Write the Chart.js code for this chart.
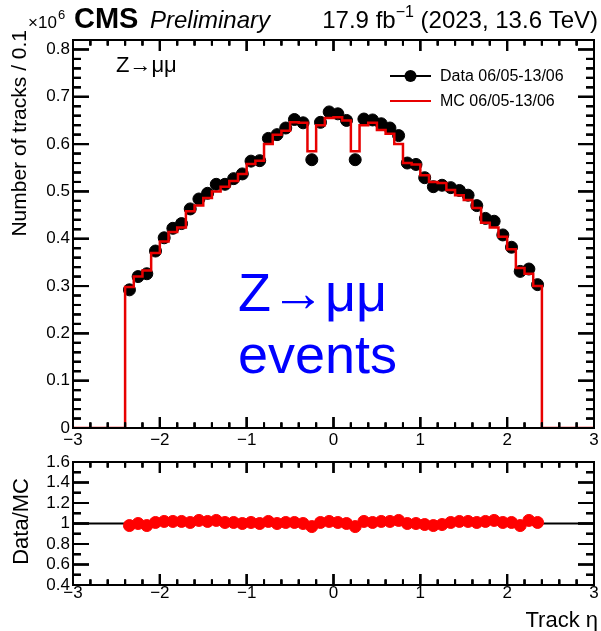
<!DOCTYPE html>
<html>
<head>
<meta charset="utf-8">
<script src="https://cdn.jsdelivr.net/npm/chart.js@4.4.1/dist/chart.umd.min.js"></script>
<style>
  html, body { margin: 0; padding: 0; background: #fff; }
  #wrap { position: relative; width: 601px; height: 631px; }
  canvas { position: absolute; left: 0; }
  #main { top: 0; }
  #ratio { top: 452px; }
</style>
</head>
<body>
<div id="wrap">
  <canvas id="main" width="601" height="452"></canvas>
  <canvas id="ratio" width="601" height="179"></canvas>
</div>
<script>
// bin edges in track eta (bin width 0.1)
const etaEdges = [-2.4, -2.3, -2.2, -2.1, -2.0, -1.9, -1.8, -1.7, -1.6, -1.5, -1.4, -1.3,
  -1.2, -1.1, -1.0, -0.9, -0.8, -0.7, -0.6, -0.5, -0.4, -0.3, -0.2, -0.1, 0.0,
  0.1, 0.2, 0.3, 0.4, 0.5, 0.6, 0.7, 0.8, 0.9, 1.0, 1.1, 1.2, 1.3, 1.4, 1.5,
  1.6, 1.7, 1.8, 1.9, 2.0, 2.1, 2.2, 2.3, 2.4];

// number of tracks per bin, in units of 10^6
const mcValues = [0.298, 0.320, 0.333, 0.370, 0.394, 0.414, 0.424, 0.458, 0.470, 0.486,
  0.500, 0.510, 0.522, 0.537, 0.558, 0.565, 0.600, 0.620, 0.628, 0.646, 0.645, 0.585,
  0.640, 0.655, 0.657, 0.650, 0.585, 0.640, 0.645, 0.630, 0.622, 0.600, 0.560, 0.557,
  0.534, 0.520, 0.518, 0.503, 0.492, 0.482, 0.465, 0.434, 0.424, 0.404, 0.378, 0.338,
  0.326, 0.300];

const dataValues = [0.292, 0.320, 0.326, 0.374, 0.402, 0.422, 0.432, 0.463, 0.484, 0.496,
  0.515, 0.515, 0.527, 0.537, 0.564, 0.565, 0.612, 0.620, 0.634, 0.652, 0.645, 0.567,
  0.646, 0.668, 0.664, 0.650, 0.567, 0.653, 0.651, 0.643, 0.634, 0.618, 0.560, 0.557,
  0.529, 0.510, 0.513, 0.508, 0.502, 0.492, 0.470, 0.443, 0.437, 0.408, 0.382, 0.331,
  0.336, 0.303];

const ratioValues = [0.98, 1.00, 0.98, 1.01, 1.02, 1.02, 1.02, 1.01, 1.03, 1.02,
  1.03, 1.01, 1.01, 1.00, 1.01, 1.00, 1.02, 1.00, 1.01, 1.01, 1.00, 0.97,
  1.01, 1.02, 1.01, 1.00, 0.97, 1.02, 1.01, 1.02, 1.02, 1.03, 1.00, 1.00,
  0.99, 0.98, 0.99, 1.01, 1.02, 1.02, 1.01, 1.02, 1.03, 1.01, 1.01, 0.98,
  1.03, 1.01];

const FONT = '"Liberation Sans", Arial, Helvetica, sans-serif';
const mcRed = 'rgb(232,0,0)';

// step outline for MC: each point holds the bin's value from its low edge on
const mcSteps = [{ x: -3, y: 0 }];
etaEdges.slice(0, -1).forEach((e, i) => mcSteps.push({ x: e, y: mcValues[i] }));
mcSteps.push({ x: etaEdges[etaEdges.length - 1], y: 0 }, { x: 3, y: 0 });

const centers = etaEdges.slice(0, -1).map((e, i) => (e + etaEdges[i + 1]) / 2);
const dataPts = centers.map((c, i) => ({ x: c, y: dataValues[i] }));
const ratioPts = centers.map((c, i) => ({ x: c, y: ratioValues[i] }));

const fmtEta = v => (v < 0 ? '\u2212' + Math.abs(v) : String(v));
const fmtDec = v => String(Math.round(v * 10) / 10);

// tick marks and frame, ROOT style (ticks on all four sides)
function drawFrame(chart, cfg) {
  const ctx = chart.ctx;
  const a = chart.chartArea;
  const sx = chart.scales.x, sy = chart.scales.y;
  ctx.save();
  ctx.fillStyle = '#000';
  const nx = Math.round((sx.max - sx.min) / cfg.xMinor);
  for (let i = 0; i <= nx; i++) {
    const p = sx.getPixelForValue(sx.min + i * cfg.xMinor);
    const L = (i % cfg.xEvery === 0) ? cfg.xLen : cfg.xLen / 2;
    ctx.fillRect(p - 1, a.bottom - L, 2, L);
    ctx.fillRect(p - 1, a.top, 2, L);
  }
  const ny = Math.round((sy.max - sy.min) / cfg.yMinor);
  for (let i = 0; i <= ny; i++) {
    const p = sy.getPixelForValue(sy.min + i * cfg.yMinor);
    const L = (i % cfg.yEvery === 0) ? cfg.yLen : cfg.yLen / 2;
    ctx.fillRect(a.left, p - 1, L, 2);
    ctx.fillRect(a.right - L, p - 1, L, 2);
  }
  ctx.strokeStyle = '#000';
  ctx.lineWidth = 2;
  ctx.strokeRect(a.left, a.top, a.right - a.left, a.bottom - a.top);
  ctx.restore();
}

function rootFrame(id, cfg) {
  return {
    id: id,
    afterDatasetsDraw(chart) { drawFrame(chart, cfg); },
    afterDraw(chart) { drawFrame(chart, cfg); }
  };
}

function textLayer(id, draw) {
  return {
    id: id,
    afterDraw(chart) {
      const ctx = chart.ctx;
      ctx.save();
      draw(ctx, chart.chartArea);
      ctx.restore();
    }
  };
}

function mainTexts(ctx, a) {
  ctx.fillStyle = '#000';
  ctx.textBaseline = 'alphabetic';
  // header
  ctx.textAlign = 'left';
  ctx.font = 'bold 29px ' + FONT;
  ctx.fillText('CMS', 74, 28);
  ctx.font = 'italic 24px ' + FONT;
  ctx.fillText('Preliminary', 150, 28);
  const p1 = '17.9 fb', p2 = '\u22121', p3 = ' (2023, 13.6 TeV)';
  ctx.font = '16px ' + FONT;
  const w2 = ctx.measureText(p2).width;
  ctx.font = '24px ' + FONT;
  const w1 = ctx.measureText(p1).width, w3 = ctx.measureText(p3).width;
  const xs = 598 - w1 - w2 - w3;
  ctx.fillText(p1, xs, 28);
  ctx.fillText(p3, xs + w1 + w2, 28);
  ctx.font = '16px ' + FONT;
  ctx.fillText(p2, xs + w1, 17);
  // exponent of y axis
  ctx.font = '17px ' + FONT;
  ctx.fillText('\u00d710', 28, 28);
  ctx.font = '13px ' + FONT;
  ctx.fillText('6', 58, 19);
  // y title
  ctx.save();
  ctx.translate(20, 30);
  ctx.rotate(-Math.PI / 2);
  ctx.textAlign = 'right';
  ctx.textBaseline = 'middle';
  ctx.font = '21px ' + FONT;
  ctx.fillText('Number of tracks / 0.1', 0, 0);
  ctx.restore();
  // small label
  ctx.font = '22px ' + FONT;
  ctx.fillText('Z\u2192\u03bc\u03bc', 116, 72);
  // legend
  ctx.lineWidth = 2;
  ctx.strokeStyle = '#000';
  ctx.beginPath(); ctx.moveTo(390, 76); ctx.lineTo(431, 76); ctx.stroke();
  ctx.beginPath(); ctx.arc(410.5, 76, 6, 0, Math.PI * 2); ctx.fill();
  ctx.strokeStyle = mcRed;
  ctx.beginPath(); ctx.moveTo(390, 101); ctx.lineTo(431, 101); ctx.stroke();
  ctx.font = '16px ' + FONT;
  ctx.fillStyle = '#000';
  ctx.textBaseline = 'middle';
  ctx.fillText('Data 06/05-13/06', 440, 77);
  ctx.fillText('MC 06/05-13/06', 440, 102);
  // annotation
  ctx.textBaseline = 'alphabetic';
  ctx.fillStyle = '#0000ff';
  ctx.font = '54px ' + FONT;
  ctx.fillText('Z\u2192\u03bc\u03bc', 238, 311);
  ctx.fillText('events', 238, 373);
}

function ratioTexts(ctx, a) {
  ctx.fillStyle = '#000';
  ctx.font = '22px ' + FONT;
  ctx.textAlign = 'right';
  ctx.textBaseline = 'alphabetic';
  ctx.fillText('Track \u03b7', 598, 175);
  ctx.save();
  ctx.translate(22, 26);
  ctx.rotate(-Math.PI / 2);
  ctx.textAlign = 'right';
  ctx.textBaseline = 'middle';
  ctx.fillText('Data/MC', 0, 0);
  ctx.restore();
}

const tickFont = { family: FONT, size: 17 };
const mainFrame = { xMinor: 0.2, xEvery: 5, yMinor: 0.02, yEvery: 5, xLen: 11, yLen: 16 };
const ratioFrame = { xMinor: 0.2, xEvery: 5, yMinor: 0.1, yEvery: 2, xLen: 11, yLen: 16 };

const mainChart = new Chart(document.getElementById('main'), {
  type: 'line',
  data: {
    datasets: [
      { label: 'MC 06/05-13/06', data: mcSteps, stepped: true, borderColor: mcRed,
        borderWidth: 2.5, pointRadius: 0, fill: false, order: 0 },
      { type: 'scatter', label: 'Data 06/05-13/06', data: dataPts, backgroundColor: '#000',
        borderColor: '#000', pointRadius: 6, order: 1 }
    ]
  },
  options: {
    responsive: false,
    animation: false,
    events: [],
    layout: { padding: { left: 0, right: 3, top: 40, bottom: 0 } },
    plugins: { legend: { display: false }, tooltip: { enabled: false } },
    scales: {
      x: {
        type: 'linear', min: -3, max: 3,
        grid: { display: false, drawTicks: false }, border: { display: false },
        ticks: { stepSize: 1, includeBounds: false, color: '#000', font: tickFont, padding: 2,
          maxRotation: 0, autoSkip: false, callback: fmtEta },
        afterFit(s) { s.height = 24; s.paddingLeft = 0; s.paddingRight = 0; }
      },
      y: {
        min: 0, max: 0.82,
        grid: { display: false, drawTicks: false }, border: { display: false },
        ticks: { stepSize: 0.1, includeBounds: false, color: '#000', font: tickFont, padding: 3,
          autoSkip: false, callback: fmtDec },
        afterFit(s) { s.width = 73; s.paddingTop = 0; s.paddingBottom = 0; }
      }
    }
  },
  plugins: [rootFrame('frameMain', mainFrame), textLayer('textMain', mainTexts)]
});

const ratioChart = new Chart(document.getElementById('ratio'), {
  type: 'scatter',
  data: {
    datasets: [
      { label: 'Data/MC', data: ratioPts, backgroundColor: 'rgb(255,0,0)', borderColor: 'rgb(255,0,0)',
        pointRadius: 6, order: 0 },
      { type: 'line', label: 'unity', data: [{ x: -3, y: 1 }, { x: 3, y: 1 }], borderColor: '#000',
        borderWidth: 2, pointRadius: 0, order: 1 }
    ]
  },
  options: {
    responsive: false,
    animation: false,
    events: [],
    layout: { padding: { left: 0, right: 3, top: 10, bottom: 0 } },
    plugins: { legend: { display: false }, tooltip: { enabled: false } },
    scales: {
      x: {
        type: 'linear', min: -3, max: 3,
        grid: { display: false, drawTicks: false }, border: { display: false },
        ticks: { stepSize: 1, includeBounds: false, color: '#000', font: tickFont, padding: -2,
          maxRotation: 0, autoSkip: false, callback: fmtEta },
        afterFit(s) { s.height = 46; s.paddingLeft = 0; s.paddingRight = 0; }
      },
      y: {
        min: 0.4, max: 1.6,
        grid: { display: false, drawTicks: false }, border: { display: false },
        ticks: { stepSize: 0.2, includeBounds: false, color: '#000', font: tickFont, padding: 3,
          autoSkip: false, callback: fmtDec },
        afterFit(s) { s.width = 73; s.paddingTop = 0; s.paddingBottom = 0; }
      }
    }
  },
  plugins: [rootFrame('frameRatio', ratioFrame), textLayer('textRatio', ratioTexts)]
});

// once both charts exist, put the frames on again
drawFrame(mainChart, mainFrame);
drawFrame(ratioChart, ratioFrame);
</script>
</body>
</html>
